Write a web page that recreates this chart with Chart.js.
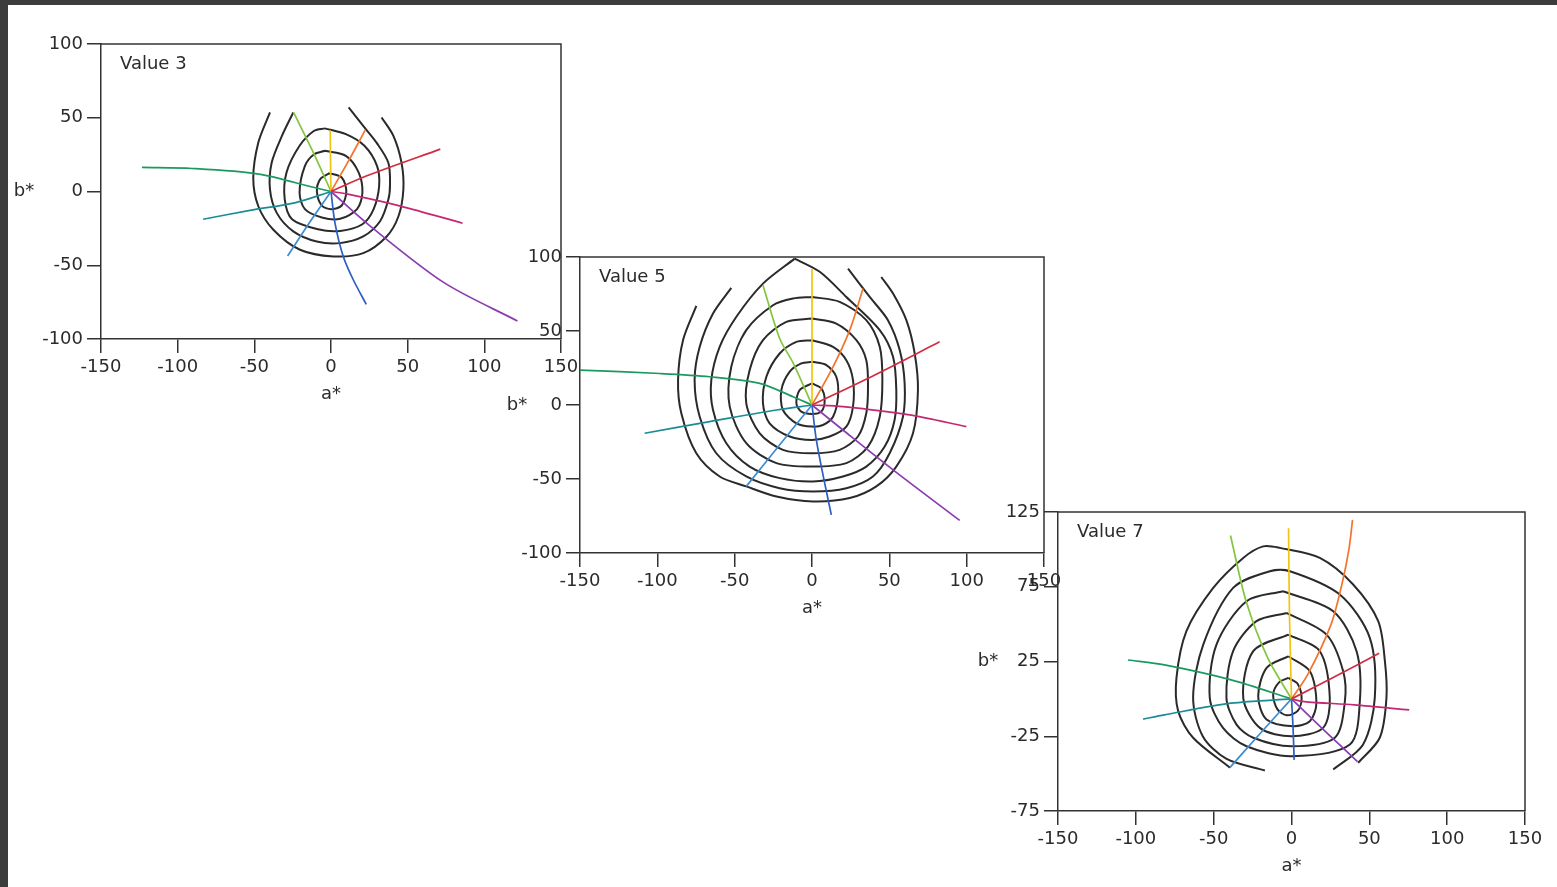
<!DOCTYPE html>
<html>
<head>
<meta charset="utf-8">
<title>Value 3 / 5 / 7 hue-chroma plots</title>
<script src="https://cdn.jsdelivr.net/npm/chart.js@4.4.1/dist/chart.umd.min.js"></script>
<style>
  html, body { margin: 0; padding: 0; background: #3c3c3c; width: 1557px; height: 887px; overflow: hidden; }
  #sheet { position: absolute; left: 8px; top: 5px; width: 1549px; height: 882px; background: #fff; }
  canvas.panel { position: absolute; }
</style>
</head>
<body>
<div id="sheet"></div>
<canvas id="value3" class="panel"></canvas>
<canvas id="value5" class="panel"></canvas>
<canvas id="value7" class="panel"></canvas>
<script>
// shared axis ticks and hue lines
const xTicks = [-150, -100, -50, 0, 50, 100, 150];
const hueNames = ["5R", "5YR", "5Y", "5GY", "5G", "5BG", "5B", "5PB", "5P", "5RP"];
const hueColors = ["#d12c40", "#f3742d", "#f2c412", "#82c63e", "#1a9a60", "#1b8c95", "#3d8bd0", "#2d5ec2", "#8b3daf", "#c52873"];

// Value 3
const value3YTicks = [-100, -50, 0, 50, 100];
const value3Hues = [
  [[0, 0], [23, 10.5], [71.3, 28.7]],
  [[0, 0], [10.9, 19.7], [22.5, 41.9]],
  [[0, 0], [-0.3, 20], [-0.5, 41.5]],
  [[0, 0], [-11.5, 26.4], [-24.4, 53.6]],
  [[0, 0], [-10.9, 2.7], [-47.1, 11.8], [-90.6, 15.6], [-123.3, 16.3]],
  [[0, 0], [-23, -7.5], [-52.8, -12.8], [-83.4, -18.8]],
  [[0, 0], [-14, -21], [-28.3, -43.7]],
  [[0, 0], [2.6, -21.4], [8, -44], [14.6, -60], [23, -76.5]],
  [[0, 0], [25.4, -23.3], [73.7, -61.8], [121.6, -87.8]],
  [[0, 0], [10.9, -1.8], [44.7, -9.7], [85.8, -21.5]],
];
const value3Rings = [
  [[-1, 12.4], [7, 9.5], [10, 0], [7, -9.5], [0, -12], [-6, -9.5], [-9.2, 0], [-7, 8.4], [-1, 12.4]],
  [[-4, 27.6], [9.7, 24.2], [18, 13], [20.5, -0.7], [17, -12], [6, -18.5], [-6, -17.6], [-17, -12], [-20.5, -0.7], [-17, 17.4], [-11, 25.3], [-4, 27.6]],
  [[-4, 42.8], [9.7, 38.9], [21.8, 31], [30, 17.4], [31.4, 3.8], [27.8, -12], [20.5, -22.2], [6, -26.7], [-8.5, -25.6], [-25.4, -18.8], [-30.2, -5.2], [-29, 12.9], [-20.5, 31], [-11, 41.2], [-4, 42.8]],
  [[-24.6, 53.6], [-32, 37.7], [-38.7, 19.5], [-39.8, 1.4], [-35.4, -14.5], [-24.6, -27], [-9.3, -33.9], [5.9, -35], [21, -30.5], [32, -20.2], [37.4, -5.5], [38.5, 5], [37.4, 19.5], [29.8, 33], [21, 44.5], [11.5, 57]],
  [[-39.8, 53.6], [-47.4, 33.2], [-50.7, 9.1], [-47.4, -10], [-37.6, -25.9], [-20.2, -39.5], [1.5, -44], [21, -41.8], [36.3, -30.5], [44, -16.8], [47.2, 1.4], [46, 19.5], [40.7, 37.7], [33, 50.2]],
];

// Value 5
const value5YTicks = [-100, -50, 0, 50, 100];
const value5Hues = [
  [[0, 0], [40, 20], [82.5, 42.7]],
  [[0, 0], [13.6, 25.8], [24.4, 50.6], [33, 78.7]],
  [[0, 0], [0, 46], [0, 92.1]],
  [[0, 0], [-12, 28], [-20.9, 44.9], [-31.7, 80.9]],
  [[0, 0], [-12.3, 5.6], [-33.8, 14.6], [-66.2, 19.1], [-98.5, 21.3], [-150, 23.6]],
  [[0, 0], [-23, -3.4], [-66.2, -11.2], [-108.2, -19.1]],
  [[0, 0], [-21, -27], [-42.5, -55]],
  [[0, 0], [2.8, -23.6], [8.2, -52.8], [12.5, -74.2]],
  [[0, 0], [20, -16.9], [52.4, -43.8], [95.5, -78]],
  [[0, 0], [20, -1.1], [63.1, -6.7], [99.8, -14.6]],
];
const value5Rings = [
  [[0, 14.6], [6, 11.2], [8.2, 3.4], [6, -4.5], [0, -6], [-6.9, -4.5], [-10.1, 1.1], [-8, 10.1], [0, 14.6]],
  [[0, 29.2], [9.3, 27], [15.7, 19.1], [16.8, 5.6], [13.6, -7.9], [7.1, -13.5], [0, -14.6], [-10.1, -12.4], [-18.8, -3.4], [-19.8, 10.1], [-14.4, 22.5], [-6.9, 28.1], [0, 29.2]],
  [[0, 43.8], [13.6, 39.3], [22.2, 30.3], [26.5, 16.9], [26.5, -1.1], [22.2, -14.6], [11.4, -21.3], [0, -23.6], [-14.4, -21.3], [-27.4, -12.4], [-31.7, 1.1], [-29.5, 19.1], [-20.9, 34.8], [-10.1, 42.7], [0, 43.8]],
  [[0, 58.4], [15.7, 55], [28.7, 43.8], [35.1, 30.3], [36.2, 12.4], [35.1, -5.6], [29.7, -21.3], [17.9, -30.3], [0, -32.6], [-18.8, -30.3], [-33.8, -19.1], [-42.5, 1.1], [-40.3, 23.6], [-31.7, 43.8], [-16.6, 56.2], [0, 58.4]],
  [[0, 73], [17.9, 69.7], [35.1, 57.3], [43.8, 39.3], [45.5, 16.9], [43.8, -7.9], [36.2, -28.1], [22.2, -39.3], [0, -41.6], [-23, -39.3], [-42.5, -25.8], [-53.2, -1.1], [-52.2, 25.8], [-42.5, 50.6], [-25.2, 67.4], [-12.3, 71.9], [0, 73]],
  [[-11.2, 98.9], [5, 90], [22.2, 73], [43.8, 50.6], [52.4, 32.6], [54.5, 10.1], [53.4, -10.1], [47, -28.1], [35.1, -41.6], [20, -48.3], [0.6, -51.7], [-20.9, -49.4], [-40.3, -41.6], [-55.4, -25.8], [-64, -3.4], [-65.1, 16.9], [-59.7, 39.3], [-48.9, 59.6], [-31.7, 82], [-11.2, 98.9]],
  [[-52.2, 79.1], [-64, 61.8], [-72.6, 39.3], [-75.9, 16.9], [-72.6, -7.9], [-61.9, -32.6], [-42.5, -48.3], [-20.9, -56.2], [0.6, -58.4], [22.2, -56.2], [39.4, -48.3], [50.2, -32.6], [58.8, -7.9], [59.9, 14.6], [56.7, 37.1], [49.1, 57.3], [37.3, 73], [23.3, 92.1]],
  [[-74.8, 67], [-83.4, 43.8], [-86.6, 16.9], [-84.5, -5.6], [-74.8, -32.6], [-59.7, -48.3], [-42.5, -55], [-23, -61.8], [0.6, -65.2], [24.4, -62.9], [41.6, -55], [54.5, -41.6], [65.3, -19.1], [68.5, 10.1], [66.4, 34.8], [61, 57.3], [52.4, 75.3], [44.8, 86.5]],
];

// Value 7
const value7YTicks = [-75, -25, 25, 75, 125];
const value7Hues = [
  [[0, 0], [28, 15], [56.3, 30.5]],
  [[0, 0], [10.3, 16], [25.3, 49.5], [32.8, 78.5], [37, 100.8], [39.2, 119.7]],
  [[0, 0], [-1.3, 56.2], [-1.9, 114.2]],
  [[0, 0], [-15.2, 27.2], [-29.1, 65.1], [-39.2, 109.3]],
  [[0, 0], [-38.8, 12.7], [-81.6, 22.7], [-105, 26]],
  [[0, 0], [-38.8, -2.9], [-81.6, -10.7], [-95.3, -13.5]],
  [[0, 0], [-20, -23], [-39.6, -46]],
  [[0, 0], [1, -19.4], [1.7, -40.8]],
  [[0, 0], [22, -22], [42.4, -41.9]],
  [[0, 0], [8.1, -1.8], [40.3, -4], [75.6, -7.4]],
];
const value7Rings = [
  [[-2, 14], [4, 10], [6.5, 0], [4, -8], [-3, -11], [-9, -7], [-11.8, 2.9], [-8, 11], [-2, 14]],
  [[-2.1, 28.5], [11.8, 18.5], [16, -2.7], [11.8, -15], [1, -18.3], [-16, -13.8], [-21.4, 1.8], [-16, 20.7], [-2.1, 28.5]],
  [[-2.1, 43], [18.2, 31.9], [24.6, 0.7], [20.3, -19.4], [0, -25], [-20.3, -19.4], [-31, 0.7], [-24.6, 31.9], [-2.1, 43]],
  [[-3.2, 57.5], [22.5, 43], [33.2, 18.5], [34.3, -1.6], [27.8, -26], [0, -31.7], [-24.6, -26], [-35.3, -17.2], [-41.8, 0.7], [-37.5, 31.9], [-22.5, 52], [-3.2, 57.5]],
  [[-5.4, 72], [26.8, 58.6], [41.8, 31.9], [43.9, -1.6], [37.5, -30.5], [0, -38.3], [-28.9, -31.7], [-44, -19.4], [-52.5, 0.7], [-48.2, 36.3], [-28.9, 65.3], [-5.4, 72]],
  [[-17.1, -47.9], [-42, -40], [-57, -25], [-63.2, 0.7], [-56.7, 36.3], [-37.5, 74.2], [-13.9, 85.4], [-1, 85.4], [31, 69.8], [50.3, 40.8], [53.5, 0.7], [46, -30.5], [26.8, -47.3]],
  [[-39.6, -46], [-63.2, -26], [-72.8, -8.2], [-73.9, 14], [-67.5, 45.3], [-50.3, 74.2], [-31, 94.3], [-18.2, 102], [-7.5, 101], [18.2, 94.3], [39.6, 76.5], [55.7, 52], [60, 25.2], [61, 0.7], [56.7, -26], [42.8, -42.8]],
];

const INK = "#2b2b2b";
const FONT = "'DejaVu Sans', sans-serif";
const Y_AXIS_W = 70;
const X_AXIS_H = 70;

// top/right frame, panel title and the horizontal b* label
const panelDecor = {
  id: "panelDecor",
  afterDraw(chart, args, opts) {
    const { ctx, chartArea: a } = chart;
    ctx.save();
    ctx.strokeStyle = "#333";
    ctx.lineWidth = 1.5;
    ctx.beginPath();
    ctx.moveTo(a.left, a.top);
    ctx.lineTo(a.right, a.top);
    ctx.lineTo(a.right, a.bottom);
    ctx.stroke();
    ctx.fillStyle = INK;
    ctx.font = "18px " + FONT;
    ctx.textBaseline = "middle";
    ctx.textAlign = "left";
    ctx.fillText(opts.title, a.left + 19, a.top + 20);
    ctx.textAlign = "center";
    ctx.fillText("b*", a.left - opts.bOffset, (a.top + a.bottom) / 2);
    ctx.restore();
  },
};

function toPoints(list) {
  return list.map((p) => ({ x: p[0], y: p[1] }));
}

function axisStyle() {
  return {
    grid: { drawOnChartArea: false, drawTicks: true, tickLength: 14, color: "#333", lineWidth: 1.5 },
    border: { display: true, color: "#333", width: 1.5 },
  };
}

function buildPanel(id, area, title, yTicks, rings, hues, bOffset) {
  const pad = { left: 30, top: 16, right: 22, bottom: 6 };
  const canvas = document.getElementById(id);
  canvas.width = pad.left + Y_AXIS_W + (area.right - area.left) + pad.right;
  canvas.height = pad.top + (area.bottom - area.top) + X_AXIS_H + pad.bottom;
  canvas.style.left = area.left - Y_AXIS_W - pad.left + "px";
  canvas.style.top = area.top - pad.top + "px";

  const datasets = [];
  hues.forEach((pts, i) => {
    datasets.push({
      label: hueNames[i],
      data: toPoints(pts),
      borderColor: hueColors[i],
      borderWidth: 1.7,
      tension: 0.3,
    });
  });
  rings.forEach((pts, i) => {
    datasets.push({
      label: "chroma " + (i + 1),
      data: toPoints(pts),
      borderColor: "#2a2a2a",
      borderWidth: 2,
      tension: 0.3,
    });
  });
  datasets.forEach((d) => {
    d.showLine = true;
    d.pointRadius = 0;
    d.fill = false;
  });

  return new Chart(canvas, {
    type: "scatter",
    data: { datasets },
    options: {
      responsive: false,
      animation: false,
      events: [],
      layout: { padding: pad },
      plugins: {
        legend: { display: false },
        tooltip: { enabled: false },
        panelDecor: { title, bOffset },
      },
      scales: {
        x: {
          type: "linear",
          min: xTicks[0],
          max: xTicks[xTicks.length - 1],
          afterBuildTicks: (s) => { s.ticks = xTicks.map((v) => ({ value: v })); },
          afterFit: (s) => { s.height = X_AXIS_H; },
          ...axisStyle(),
          ticks: { color: INK, font: { family: FONT, size: 18 }, padding: 4, maxRotation: 0, autoSkip: false },
          title: { display: true, text: "a*", color: INK, font: { family: FONT, size: 18 }, padding: { top: 0, bottom: 4 } },
        },
        y: {
          type: "linear",
          min: yTicks[0],
          max: yTicks[yTicks.length - 1],
          afterBuildTicks: (s) => { s.ticks = yTicks.map((v) => ({ value: v })); },
          afterFit: (s) => { s.width = Y_AXIS_W; },
          ...axisStyle(),
          ticks: { color: INK, font: { family: FONT, size: 18 }, padding: 4, autoSkip: false },
        },
      },
    },
    plugins: [panelDecor],
  });
}

buildPanel("value3", { left: 101, top: 44, right: 561, bottom: 339 }, "Value 3", value3YTicks, value3Rings, value3Hues, 77);
buildPanel("value5", { left: 580, top: 257, right: 1044, bottom: 553 }, "Value 5", value5YTicks, value5Rings, value5Hues, 63);
buildPanel("value7", { left: 1058, top: 512, right: 1525, bottom: 811 }, "Value 7", value7YTicks, value7Rings, value7Hues, 70);
</script>
</body>
</html>
